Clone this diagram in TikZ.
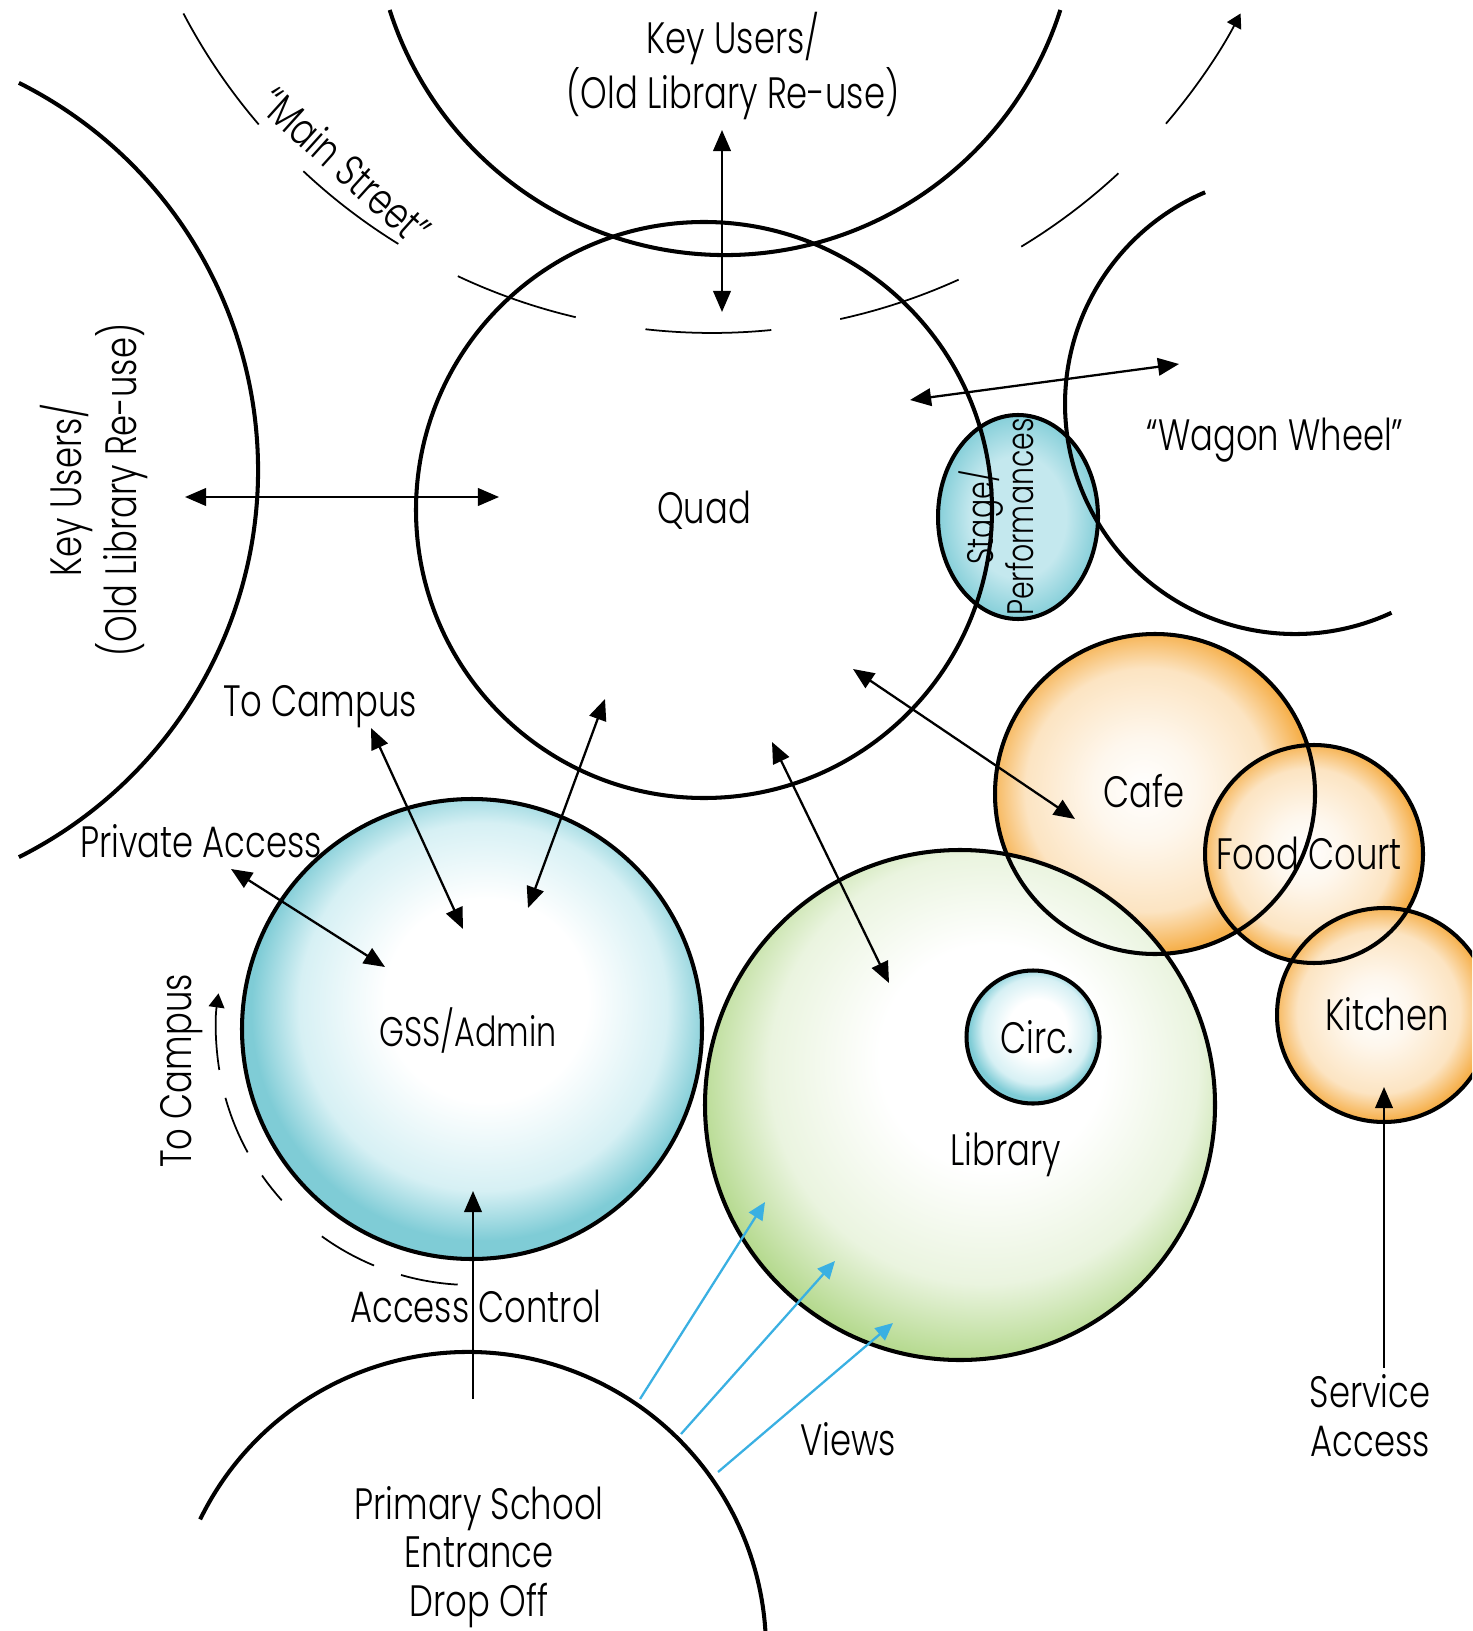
\documentclass[tikz,border=0pt]{standalone}
\usepackage{fontspec}
\setmainfont{Poppins Light}[FakeStretch=0.77]
\usetikzlibrary{arrows.meta,shapes.geometric}
\definecolor{cyanRim}{HTML}{7FCCD6}
\definecolor{cyanMid}{HTML}{D6F0F4}
\definecolor{stageRim}{HTML}{86CFD9}
\definecolor{stageMid}{HTML}{C4E8EE}
\definecolor{greenRim}{HTML}{B4D98D}
\definecolor{greenMid}{HTML}{EAF4DF}
\definecolor{orangeRim}{HTML}{F6B14E}
\definecolor{orangeMid}{HTML}{FCE4C2}
\definecolor{viewBlue}{HTML}{3AB0E2}
\newcommand\upx{0.02cm}
\newcommand\lblfont{\fontsize{25}{27.8}\selectfont}
\newcommand\gssfont{\fontsize{23.5}{26}\selectfont}
\pgfdeclareradialshading{cyanball}{\pgfpoint{2bp}{4bp}}{%
  color(0bp)=(white); color(11bp)=(white); color(20bp)=(cyanMid);
  color(25bp)=(cyanRim); color(50bp)=(cyanRim)}
\pgfdeclareradialshading{stageball}{\pgfpoint{0bp}{0bp}}{%
  color(0bp)=(stageMid); color(15bp)=(stageMid); color(25bp)=(stageRim);
  color(50bp)=(stageRim)}
\pgfdeclareradialshading{greenball}{\pgfpoint{4bp}{6bp}}{%
  color(0bp)=(white); color(11bp)=(white); color(21bp)=(greenMid);
  color(28bp)=(greenRim); color(50bp)=(greenRim)}
\pgfdeclareradialshading{orangeball}{\pgfpoint{-2bp}{1bp}}{%
  color(0bp)=(white); color(8bp)=(white!70!orangeMid); color(19bp)=(orangeMid);
  color(25bp)=(orangeRim); color(50bp)=(orangeRim)}
\tikzset{
  ball/.style   = {circle, inner sep=0pt, shade, shading=#1},
  zone/.style   = {circle, draw=black, line width=2.3pt, inner sep=0pt},
  ring/.style   = {draw=black, line width=2.3pt},
  street/.style = {draw=black, line width=1pt},
  lbl/.style    = {font=\lblfont, align=center, inner sep=0pt},
  link/.style   = {{Triangle[length=12pt,width=10pt]}-{Triangle[length=12pt,width=10pt]},
                   line width=1.3pt},
  oneway/.style = {-{Triangle[length=12pt,width=10pt]}, line width=1.3pt},
  sight/.style  = {-{Triangle[length=10pt,width=9pt]}, draw=viewBlue, line width=1.3pt},
  tipto/.style  = {-{Triangle[length=8pt,width=9pt]}},
}
\begin{document}
\begin{tikzpicture}[x=0.02cm, y=-0.02cm]
  \useasboundingbox (0,0) rectangle (1472,1631);
  \clip (0,0) rectangle (1472,1631);
  % fills first, every outline goes on top of them
  \node[ball=orangeball, minimum size=320*\upx] (cafe)    at (1155,794)  {};
  \node[ball=orangeball, minimum size=218*\upx] (foodct)  at (1314,854)  {};
  \node[ball=orangeball, minimum size=214*\upx] (kitchen) at (1384,1015) {};
  \node[ball=greenball,  minimum size=510*\upx] (library) at (960,1105)  {};
  \node[ball=cyanball,   minimum size=133*\upx] (circ)    at (1033,1037) {};
  \node[ball=cyanball,   minimum size=460*\upx] (gss)     at (472,1029)  {};
  \node[ball=stageball, ellipse, minimum width=160*\upx,
        minimum height=204*\upx] (stage) at (1018,517) {};
  \foreach \n/\r in {cafe/160, foodct/109, kitchen/107, library/255, circ/66.5, gss/230}
    \draw[ring] (\n) circle[radius=\r];
  \draw[ring] (stage) ellipse[x radius=80, y radius=102];
  \node[zone, lbl, minimum size=576*\upx] (quad) at (704,510) {Quad};

  % neighbours, only partly in view
  \coordinate (keyW)   at (-175,470);
  \coordinate (keyN)   at (725,-97);
  \coordinate (wagon)  at (1295,404);
  \coordinate (school) at (468,1650);
  \draw[ring] (keyW) ++(-63.4:433) arc[start angle=-63.4, end angle=63.4, radius=433];
  \draw[ring] (keyN) ++(17.7:352) arc[start angle=17.7, end angle=162.3, radius=352];
  \draw[ring] (wagon) ++(65.2:230) arc[start angle=65.2, end angle=247, radius=230];
  \draw[ring] (school) ++(206:298) arc[start angle=206, end angle=362, radius=298];

  % "Main Street" and the path round GSS
  \coordinate (street) at (712,-264);
  \foreach \a/\b in {152.3/139.4, 133.2/121.7, 115.2/103.2, 96.4/84.3, 77.6/65.6, 58.8/47.1}
    \draw[street] (street) ++(\a:597) arc[start angle=\a, end angle=\b, radius=597];
  \draw[street, tipto] (street) ++(40.5:597) arc[start angle=40.5, end angle=27.7, radius=597];
  \foreach \a/\b in {93.2/106.1, 112.5/125.9, 138/145.1, 151.2/164.4}
    \draw[street] (gss) ++(\a:256) arc[start angle=\a, end angle=\b, radius=256];
  \draw[street, tipto] (gss) ++(170.8:256) arc[start angle=170.8, end angle=188, radius=256];

  % labels
  \node[lbl] (keyNTxt) at (733,66) {Key Users/\\(Old Library Re-use)};
  \node[lbl, rotate=90] (keyWTxt) at (94,490) {Key Users/\\(Old Library Re-use)};
  \node[lbl, rotate=-42] (streetTxt) at (346,166) {``Main Street''};
  \node[lbl] (wagonTxt) at (1275,440) {``Wagon Wheel''};
  \node[lbl, rotate=90, font=\fontsize{21}{21}\selectfont] (stageTxt) at (996,517)
    {Stage/\\Performances};
  \node[lbl] (campusTxt) at (320,707) {To Campus};
  \node[lbl] (privTxt) at (201,841) {Private Access};
  \node[lbl, font=\gssfont] (gssTxt) at (468,1031) {GSS/Admin};
  \node[lbl, rotate=90] (campusTxt2) at (182,1071) {To Campus};
  \node[lbl] (accessTxt) at (476,1306) {Access Control};
  \node[lbl] (schoolTxt) at (479,1557) {Primary School\\Entrance\\Drop Off};
  \node[lbl] (viewsTxt) at (848,1439) {Views};
  \node[lbl] (libTxt) at (1006,1155) {Library};
  \node[lbl] (circTxt) at (1037,1037) {Circ.};
  \node[lbl] (cafeTxt) at (1144,791) {Cafe};
  \node[lbl] (foodTxt) at (1309,853) {Food Court};
  \node[lbl] (kitchenTxt) at (1387,1014) {Kitchen};
  \node[lbl] (serviceTxt) at (1370,1416) {Service\\Access};

  % arrow ends
  \coordinate (kw1) at (185,497);   \coordinate (kw2) at (499,497);
  \coordinate (kn1) at (722,130);   \coordinate (kn2) at (722,312);
  \coordinate (ww1) at (910,400);   \coordinate (ww2) at (1179,364);
  \coordinate (qc1) at (853,669);   \coordinate (qc2) at (1075,819);
  \coordinate (ql1) at (772,742);   \coordinate (ql2) at (889,983);
  \coordinate (qg1) at (605,699);   \coordinate (qg2) at (528,908);
  \coordinate (tc1) at (371,728);   \coordinate (tc2) at (463,929);
  \coordinate (pa1) at (231,869);   \coordinate (pa2) at (385,967);
  \coordinate (ac1) at (473,1399);  \coordinate (ac2) at (473,1191);
  \coordinate (sa1) at (1384,1368); \coordinate (sa2) at (1384,1087);
  \coordinate (v1a) at (640,1399);  \coordinate (v1b) at (765,1202);
  \coordinate (v2a) at (681,1434);  \coordinate (v2b) at (835,1261);
  \coordinate (v3a) at (718,1472);  \coordinate (v3b) at (893,1323);

  \foreach \a/\b in {kw1/kw2, kn1/kn2, ww1/ww2, qc1/qc2, ql1/ql2, qg1/qg2, tc1/tc2, pa1/pa2}
    \draw[link] (\a) -- (\b);
  \draw[oneway] (ac1) -- (ac2);
  \draw[oneway] (sa1) -- (sa2);
  \foreach \a/\b in {v1a/v1b, v2a/v2b, v3a/v3b}
    \draw[sight] (\a) -- (\b);
\end{tikzpicture}
\end{document}
